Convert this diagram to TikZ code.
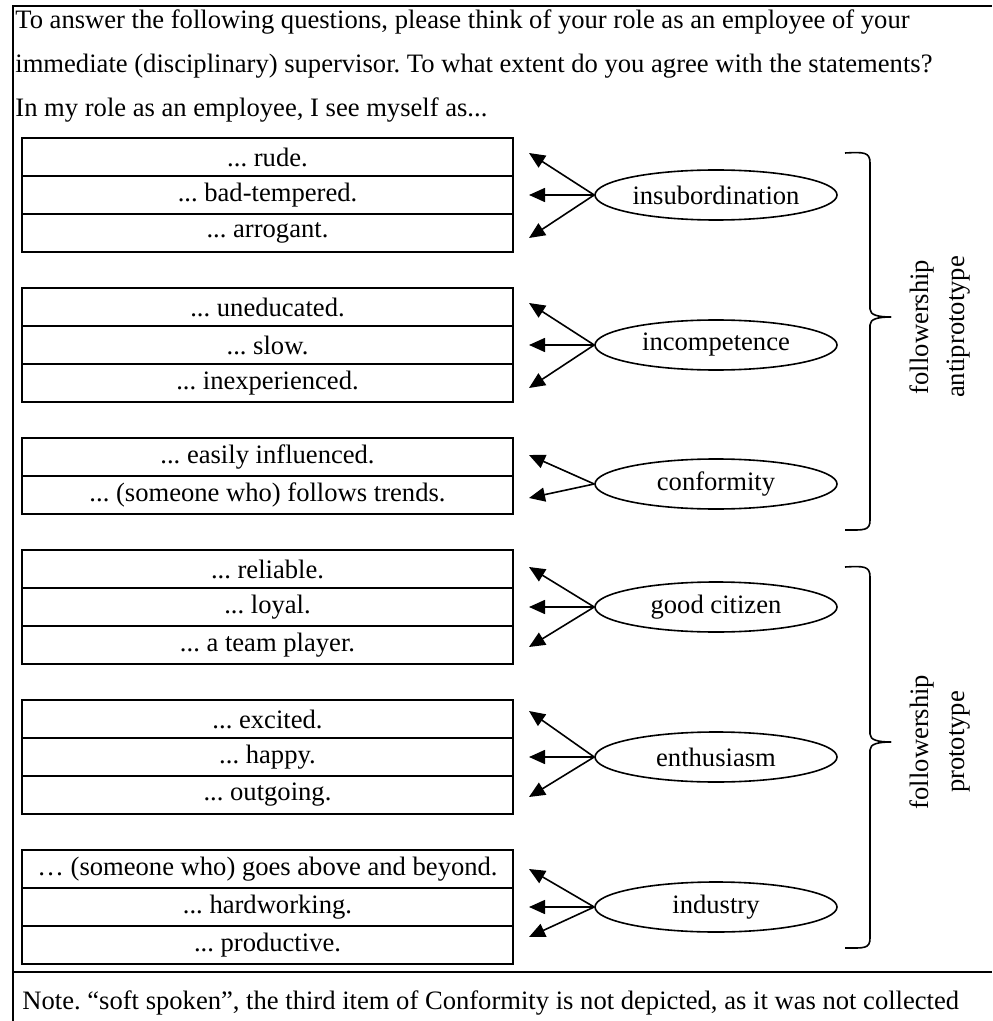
\documentclass[tikz,border=0pt]{standalone}
\usepackage{fontspec}
\setmainfont{Liberation Serif}
\frenchspacing
\usetikzlibrary{arrows.meta,shapes.geometric}

\begin{document}
\begin{tikzpicture}[x=0.5pt,y=-0.5pt,font=\fontsize{13.3}{16}\selectfont,
    item/.style={rectangle,draw,line width=1pt,minimum width=245.5pt,minimum height=19pt,inner sep=0pt},
    factor/.style={ellipse,draw,line width=0.8pt,minimum width=121pt,minimum height=25pt,inner sep=0pt},
    load/.style={-{Triangle[length=8pt,width=7pt]},line width=0.8pt},
    line/.style={anchor=base west,inner sep=0pt},
    side/.style={rotate=90,align=center,font=\fontsize{13.3}{18}\selectfont}]
\useasboundingbox (0,0) rectangle (992,1021);

% Frame
\draw[line width=1pt] (13,1021) -- (13,6) -- (992,6);
\draw[line width=1pt] (13,972) -- (992,972);

% Question
\node[line] (q1) at (15,29) {To answer the following questions, please think of your role as an employee of your};
\node[line] (q2) at (15,73) {immediate (disciplinary) supervisor. To what extent do you agree with the statements?};
\node[line] (q3) at (15,117) {In my role as an employee, I see myself as...};

% Items: insubordination
\node[item] (rude) at (267.5,157) {... rude.};
\node[item] (badtemp) at (267.5,195) {... bad-tempered.};
\node[item] (arrog) at (267.5,233) {... arrogant.};

% Items: incompetence
\node[item] (uneduc) at (267.5,307) {... uneducated.};
\node[item] (slow) at (267.5,345) {... slow.};
\node[item] (inexp) at (267.5,383) {... inexperienced.};

% Items: conformity
\node[item] (easily) at (267.5,457) {... easily influenced.};
\node[item] (trends) at (267.5,495) {... (someone who) follows trends.};

% Items: good citizen
\node[item] (reliab) at (267.5,569) {... reliable.};
\node[item] (loyal) at (267.5,607) {... loyal.};
\node[item] (team) at (267.5,645) {... a team player.};

% Items: enthusiasm
\node[item] (excited) at (267.5,719) {... excited.};
\node[item] (happy) at (267.5,757) {... happy.};
\node[item] (outgo) at (267.5,795) {... outgoing.};

% Items: industry
\node[item] (beyond) at (267.5,869) {… (someone who) goes above and beyond.};
\node[item] (hardw) at (267.5,907) {... hardworking.};
\node[item] (product) at (267.5,945) {... productive.};

% Factors
\node[factor] (insub) at (716,195) {insubordination};
\node[factor] (incomp) at (716,345) {incompetence};
\node[factor] (conf) at (716,484) {conformity};
\node[factor] (goodcit) at (716,607) {good citizen};
\node[factor] (enthus) at (716,757) {enthusiasm};
\node[factor] (indus) at (716,907) {industry};

% Loadings
\draw[load] (insub.west) -- ([xshift=7.5pt,yshift=2pt]rude.east);
\draw[load] (insub.west) -- ([xshift=7.5pt]badtemp.east);
\draw[load] (insub.west) -- ([xshift=7.5pt,yshift=-2.5pt]arrog.east);
\draw[load] (incomp.west) -- ([xshift=7.5pt,yshift=2pt]uneduc.east);
\draw[load] (incomp.west) -- ([xshift=7.5pt]slow.east);
\draw[load] (incomp.west) -- ([xshift=7.5pt,yshift=-2.5pt]inexp.east);
\draw[load] (conf.west) -- ([xshift=7.5pt,yshift=1pt]easily.east);
\draw[load] (conf.west) -- ([xshift=7.5pt,yshift=-1.5pt]trends.east);
\draw[load] (goodcit.west) -- ([xshift=7.5pt,yshift=1pt]reliab.east);
\draw[load] (goodcit.west) -- ([xshift=7.5pt]loyal.east);
\draw[load] (goodcit.west) -- ([xshift=7.5pt,yshift=-1pt]team.east);
\draw[load] (enthus.west) -- ([xshift=7.5pt,yshift=4pt]excited.east);
\draw[load] (enthus.west) -- ([xshift=7.5pt]happy.east);
\draw[load] (enthus.west) -- ([xshift=7.5pt,yshift=-1pt]outgo.east);
\draw[load] (indus.west) -- ([xshift=7.5pt]beyond.east);
\draw[load] (indus.west) -- ([xshift=7.5pt]hardw.east);
\draw[load] (indus.west) -- ([xshift=7.5pt,yshift=4pt]product.east);

% Braces
\draw[line width=0.8pt] (845,153) .. controls (864,152) and (870,152) .. (870,163) -- (870,309)
  .. controls (870,315) and (878,317) .. (891,317);
\draw[line width=0.8pt] (891,317) .. controls (878,317) and (870,319) .. (870,325) -- (870,520)
  .. controls (870,531) and (864,530) .. (845,530);
\draw[line width=0.8pt] (845,567) .. controls (864,566) and (870,566) .. (870,577) -- (870,734)
  .. controls (870,740) and (878,742) .. (891,742);
\draw[line width=0.8pt] (891,742) .. controls (878,742) and (870,744) .. (870,750) -- (870,938)
  .. controls (870,949) and (864,948) .. (845,948);
\node[side] (anti) at (940,327) {followership\\antiprototype};
\node[side] (proto) at (940,742) {followership\\prototype};

% Note
\node[line] (note) at (22,1009) {Note. “soft spoken”, the third item of Conformity is not depicted, as it was not collected};
\end{tikzpicture}
\end{document}
